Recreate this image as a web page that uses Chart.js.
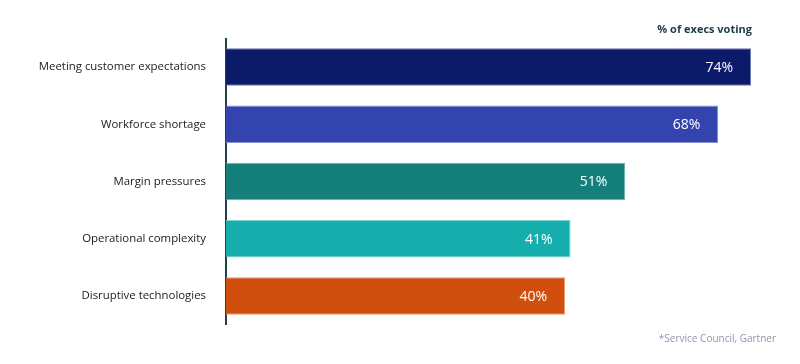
<!DOCTYPE html>
<html>
<head>
<meta charset="utf-8">
<script src="https://cdn.jsdelivr.net/npm/chart.js@4/dist/chart.umd.min.js"></script>
<style>
  html, body { margin: 0; padding: 0; background: #fff; }
  #wrap { width: 800px; height: 364px; position: relative; }
</style>
</head>
<body>
<div id="wrap"><canvas id="execChart"></canvas></div>
<script>
// ======================================
// DATA
// ======================================
const categories = ['Meeting customer expectations', 'Workforce shortage', 'Margin pressures', 'Operational complexity', 'Disruptive technologies'];
const votes = [74, 68, 51, 41, 40];
const barColors = ['#0c1a6a', '#3344ae', '#15807b', '#15aeac', '#d04e0e'];
const barEdges = ['#6f78b0', '#8a93d0', '#6fb3ae', '#7fd4d2', '#ec9a72'];
const headerText = '% of execs voting';
const footnoteText = '*Service Council, Gartner';

// axis range (x axis hidden, tuned to the bar lengths in the source)
const xMin = -22;
const xMax = 76;

// ======================================
// PLUGINS
// ======================================
const valueLabels = {
    id: 'valueLabels',
    afterDatasetsDraw(chart) {
        const ctx = chart.ctx;
        const meta = chart.getDatasetMeta(0);
        ctx.save();
        ctx.font = '14px "Open Sans", sans-serif';
        ctx.fillStyle = '#ffffff';
        ctx.textAlign = 'right';
        ctx.textBaseline = 'middle';
        meta.data.forEach(function(bar, i) {
            ctx.fillText(votes[i] + '%', bar.x - 18, bar.y + 1);
        });
        ctx.restore();
    }
};

const notes = {
    id: 'notes',
    afterDraw(chart) {
        const ctx = chart.ctx;
        const area = chart.chartArea;
        ctx.save();
        ctx.textAlign = 'right';
        ctx.textBaseline = 'middle';
        ctx.font = 'bold 11px "Open Sans", sans-serif';
        ctx.fillStyle = '#1c3b44';
        ctx.fillText(headerText, area.right - 10, area.top - 9);
        ctx.font = '10px "Open Sans", sans-serif';
        ctx.fillStyle = '#8d96ab';
        ctx.fillText(footnoteText, chart.width - 24, area.bottom + 15);
        ctx.restore();
    }
};

// ======================================
// CHART
// ======================================
document.addEventListener('DOMContentLoaded', function() {
    const ctx = document.getElementById('execChart').getContext('2d');
    new Chart(ctx, {
        type: 'bar',
        data: {
            labels: categories,
            datasets: [{
                data: votes,
                base: xMin,
                backgroundColor: barColors,
                borderColor: barEdges,
                borderWidth: 1,
                borderSkipped: 'left',
                barPercentage: 0.82,
                categoryPercentage: 0.8
            }]
        },
        options: {
            indexAxis: 'y',
            responsive: true,
            maintainAspectRatio: false,
            animation: false,
            layout: { padding: { top: 38.5, bottom: 39.5, right: 38, left: 0 } },
            scales: {
                x: { display: false, min: xMin, max: xMax },
                y: {
                    afterFit: function(scale) { scale.width = 226; },
                    grid: { display: false, drawTicks: false },
                    border: { display: true, color: '#22404a', width: 2 },
                    ticks: { padding: 20, color: '#1a1a1a', font: { family: '"Open Sans", sans-serif', size: 11.4 } }
                }
            },
            plugins: { legend: { display: false }, tooltip: { enabled: false } }
        },
        plugins: [valueLabels, notes]
    });
});
</script>
</body>
</html>
